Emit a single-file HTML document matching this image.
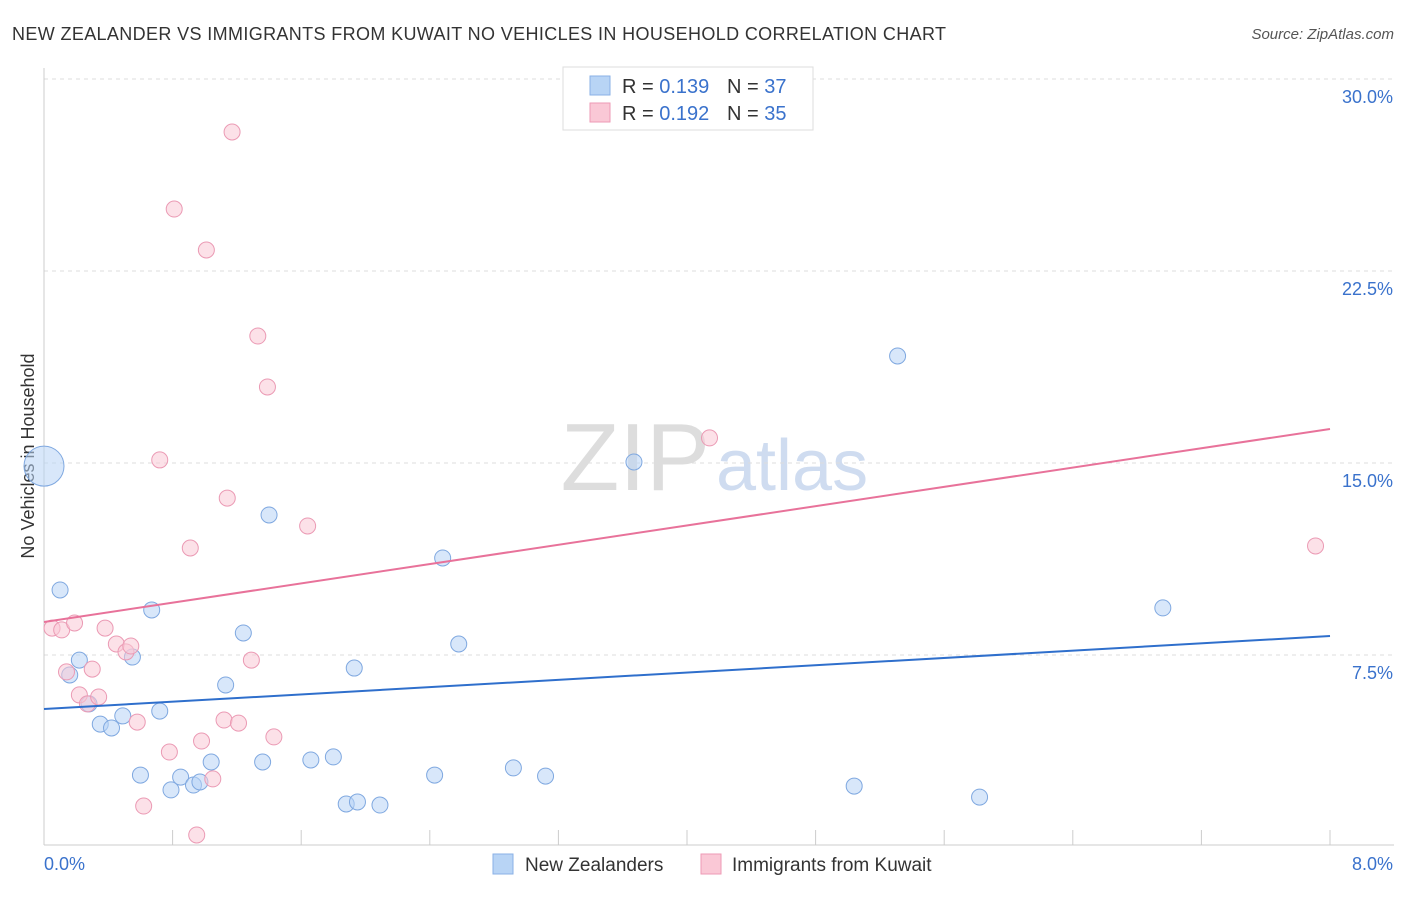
<!DOCTYPE html>
<html><head><meta charset="utf-8"><style>
body{margin:0;background:#fff;font-family:"Liberation Sans",sans-serif}
svg text{font-family:"Liberation Sans",sans-serif}
</style></head><body>
<svg id="c" width="1406" height="892" xmlns="http://www.w3.org/2000/svg">
<text x="12" y="40" font-size="18" fill="#333" textLength="934">NEW ZEALANDER VS IMMIGRANTS FROM KUWAIT NO VEHICLES IN HOUSEHOLD CORRELATION CHART</text>
<text x="1394" y="39" font-size="15" fill="#555" font-style="italic" text-anchor="end">Source: ZipAtlas.com</text>
<text x="710" y="490" font-size="96" fill="#ddd" text-anchor="end" font-family="Liberation Serif">ZIP</text>
<text x="716" y="490" font-size="72" fill="#cfdcf0">atlas</text>
<g id="grid"></g><g id="axes"></g>
<text transform="translate(34,456) rotate(-90)" font-size="18" fill="#333" text-anchor="middle">No Vehicles in Household</text>
<g id="marks"></g>
<g>
<rect x="563" y="67" width="250" height="63" fill="#fff" stroke="#ddd"/>
<rect x="590" y="76" width="20" height="19" fill="#b8d4f5" stroke="#8ab0e6"/>
<rect x="590" y="103" width="20" height="19" fill="#fac8d6" stroke="#ee9ab5"/>
<text x="622" y="93" font-size="20" fill="#333">R = <tspan fill="#3a72cc">0.139</tspan></text>
<text x="727" y="93" font-size="20" fill="#333">N = <tspan fill="#3a72cc">37</tspan></text>
<text x="622" y="120" font-size="20" fill="#333">R = <tspan fill="#3a72cc">0.192</tspan></text>
<text x="727" y="120" font-size="20" fill="#333">N = <tspan fill="#3a72cc">35</tspan></text>
</g>
<g>
<rect x="493" y="854" width="20" height="20" fill="#b8d4f5" stroke="#8ab0e6"/>
<text x="525" y="871" font-size="19" fill="#333">New Zealanders</text>
<rect x="701" y="854" width="20" height="20" fill="#fac8d6" stroke="#ee9ab5"/>
<text x="732" y="871" font-size="19" fill="#333">Immigrants from Kuwait</text>
</g>
</svg>
<script>
const yTicks=[7.5,15,22.5,30];
const yTickLabels=["7.5%","15.0%","22.5%","30.0%"];
const blueX=[0,0.10,0.16,0.22,0.28,0.35,0.42,0.49,0.55,0.60,0.67,0.72,0.79,0.85,0.93,0.97,1.04,1.13,1.24,1.36,1.40,1.66,1.80,1.88,1.95,2.09,1.93,2.43,2.48,2.58,2.92,3.12,3.67,5.04,5.31,5.82,6.96];
const blueY=[14.88,10.04,6.72,7.30,5.59,4.80,4.65,5.12,7.42,2.81,9.26,5.31,2.23,2.73,2.42,2.54,3.32,6.33,8.36,3.32,12.97,3.40,3.52,1.68,1.76,1.64,6.99,2.81,11.29,7.93,3.09,2.77,15.04,2.38,19.18,1.95,9.34];
const pinkX=[0.05,0.11,0.14,0.19,0.22,0.27,0.30,0.34,0.38,0.45,0.51,0.54,0.58,0.62,0.72,0.78,0.81,0.91,0.95,0.98,1.01,1.05,1.12,1.14,1.17,1.21,1.29,1.33,1.39,1.43,1.64,4.14,7.91];
const pinkY=[8.55,8.48,6.84,8.75,5.94,5.59,6.95,5.86,8.55,7.93,7.62,7.85,4.88,1.60,15.12,3.71,24.92,11.68,0.47,4.14,23.32,2.66,4.96,13.63,27.93,4.84,7.30,19.96,17.97,4.30,12.54,15.98,11.76];
const blueTrend=[5.39,8.24];
const pinkTrend=[8.79,16.33];
const X=v=>44+v/8*1286, Y=v=>847-v/7.5*192;
const NS="http://www.w3.org/2000/svg";
function mk(p,t,a){const e=document.createElementNS(NS,t);for(const k in a)e.setAttribute(k,a[k]);document.getElementById(p).appendChild(e);return e;}
yTicks.forEach((t,i)=>{
 const l=mk('grid','line',{x1:44,x2:1394,y1:Y(t),y2:Y(t),stroke:'#ddd','stroke-dasharray':'4,4'});
 
 
 const tx=mk('grid','text',{x:1393,y:Y(t)+24,'font-size':18,fill:'#3a72cc','text-anchor':'end'});
 tx.textContent=yTickLabels[i];
 
 
});
mk('axes','line',{x1:44,x2:44,y1:68,y2:845,stroke:'#ccc'});
mk('axes','line',{x1:44,x2:1394,y1:845,y2:845,stroke:'#ccc'});
for(let i=0;i<=10;i++){const x=X(i*0.8);mk('axes','line',{x1:x,x2:x,y1:830,y2:845,stroke:'#ccc'});}
const x0=mk('axes','text',{x:44,y:870,'font-size':18,fill:'#3a72cc'});x0.textContent='0.0%';


const x8=mk('axes','text',{x:1393,y:870,'font-size':18,fill:'#3a72cc','text-anchor':'end'});x8.textContent='8.0%';


function pts(xs,ys,f,s,name){xs.forEach((x,i)=>{const c=mk('marks','circle',{cx:X(x),cy:Y(ys[i]),r:(name==='blue-point'&&i===0)?20:8,fill:f,stroke:s,'stroke-width':1,'fill-opacity':0.55});
 
 });}
pts(blueX,blueY,'#b8d4f5','#7fa8e0','blue-point');
pts(pinkX,pinkY,'#fac8d6','#eb9ab4','pink-point');
const bl=mk('marks','line',{x1:X(0),y1:Y(blueTrend[0]),x2:X(8),y2:Y(blueTrend[1]),stroke:'#2f6fcc','stroke-width':2});


const pl=mk('marks','line',{x1:X(0),y1:Y(pinkTrend[0]),x2:X(8),y2:Y(pinkTrend[1]),stroke:'#e8729a','stroke-width':2});


</script>
</body></html>
